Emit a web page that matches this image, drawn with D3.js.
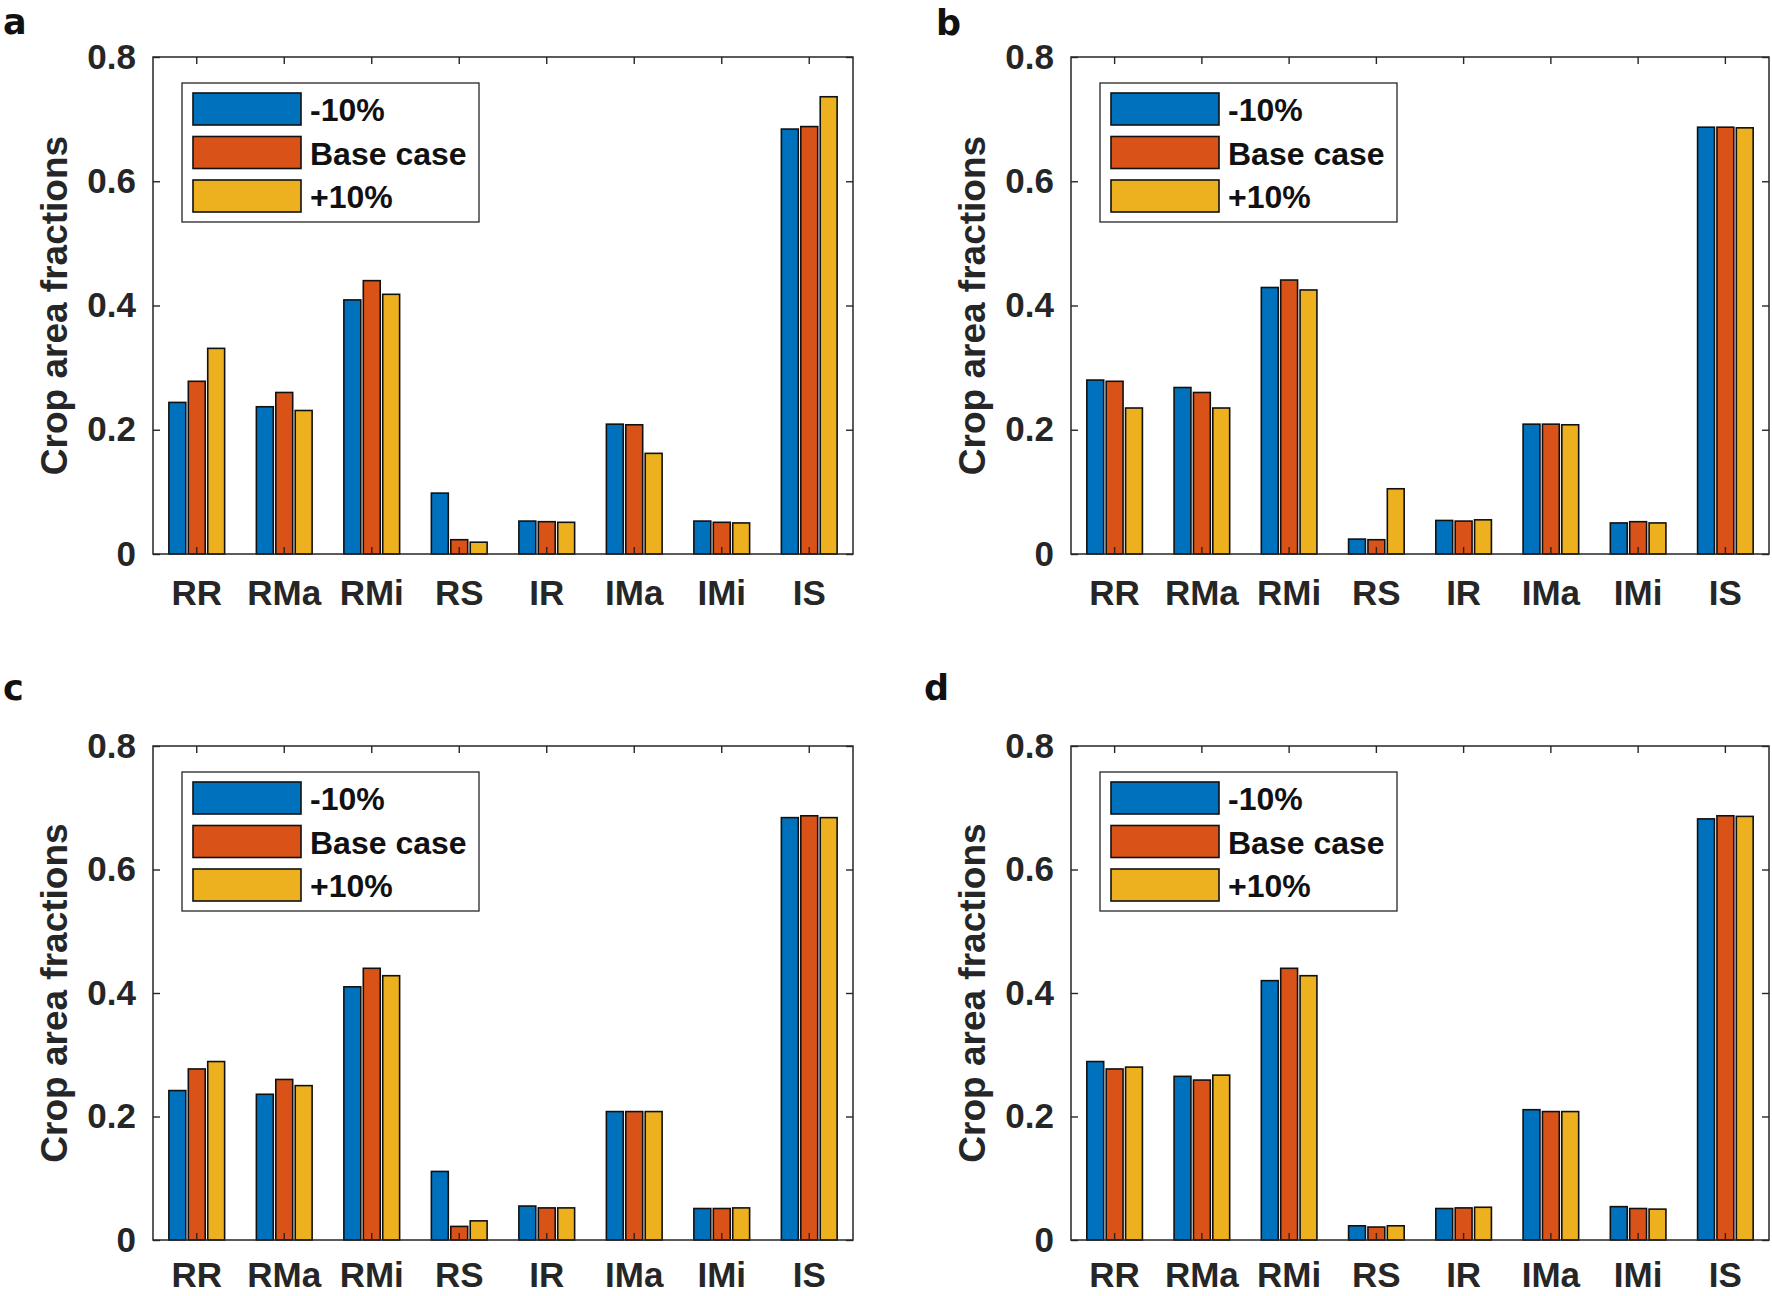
<!DOCTYPE html>
<html>
<head>
<meta charset="utf-8">
<script src="https://cdn.jsdelivr.net/npm/d3@7/dist/d3.min.js"></script>
<style>
  html, body { margin: 0; padding: 0; background: #fff; }
  svg { display: block; }
</style>
</head>
<body>
<svg id="chart" width="1772" height="1296"></svg>
<script>
// ---------------- DATA ----------------
const categories = ["RR", "RMa", "RMi", "RS", "IR", "IMa", "IMi", "IS"];
const seriesNames = ["-10%", "Base case", "+10%"];
const panelLabels = ["a", "b", "c", "d"];
const yTicks = [0, 0.2, 0.4, 0.6, 0.8];
const yTickLabels = ["0", "0.2", "0.4", "0.6", "0.8"];
const yAxisTitle = "Crop area fractions";

// panel a
const aMinus10 = [0.244, 0.237, 0.409, 0.098, 0.053, 0.209, 0.053, 0.684];
const aBase    = [0.278, 0.260, 0.440, 0.023, 0.052, 0.208, 0.051, 0.688];
const aPlus10  = [0.331, 0.231, 0.418, 0.019, 0.051, 0.162, 0.050, 0.736];
// panel b
const bMinus10 = [0.280, 0.268, 0.429, 0.024, 0.054, 0.209, 0.050, 0.687];
const bBase    = [0.278, 0.260, 0.441, 0.023, 0.053, 0.209, 0.052, 0.687];
const bPlus10  = [0.235, 0.235, 0.425, 0.105, 0.055, 0.208, 0.050, 0.686];
// panel c
const cMinus10 = [0.242, 0.236, 0.410, 0.111, 0.055, 0.208, 0.051, 0.684];
const cBase    = [0.277, 0.260, 0.440, 0.022, 0.052, 0.208, 0.051, 0.687];
const cPlus10  = [0.289, 0.250, 0.428, 0.031, 0.052, 0.208, 0.052, 0.684];
// panel d
const dMinus10 = [0.289, 0.265, 0.420, 0.023, 0.051, 0.211, 0.054, 0.682];
const dBase    = [0.277, 0.259, 0.440, 0.021, 0.052, 0.208, 0.051, 0.687];
const dPlus10  = [0.280, 0.267, 0.428, 0.023, 0.053, 0.208, 0.050, 0.686];

const panelSeries = [
  [aMinus10, aBase, aPlus10],
  [bMinus10, bBase, bPlus10],
  [cMinus10, cBase, cPlus10],
  [dMinus10, dBase, dPlus10]
];

// ---------------- STYLE / LAYOUT ----------------
const colors = ["#0072BD", "#D95319", "#EDB120"];
const axisColor = "#262626";
const fontFamily = "'Liberation Sans', Arial, Helvetica, sans-serif";
const panels = [
  { x: 153,  y: 57,  w: 700, h: 497, lx: 3,   ly: 34,  pad: 26 },
  { x: 1071, y: 57,  w: 698, h: 497, lx: 936, ly: 35,  pad: 26 },
  { x: 153,  y: 746, w: 700, h: 494, lx: 3,   ly: 700, pad: 22 },
  { x: 1071, y: 746, w: 698, h: 494, lx: 924, ly: 700, pad: 22 }
];

const svg = d3.select("#chart");

panels.forEach((p, pi) => {
  const data = panelSeries[pi];
  const g = svg.append("g").attr("transform", `translate(${p.x},${p.y})`);

  const x = d3.scaleBand().domain(categories).range([0, p.w]).paddingInner(0).paddingOuter(0);
  const y = d3.scaleLinear().domain([0, 0.8]).range([p.h, 0]);

  const bw = x.bandwidth();
  const groupW = bw * 0.222 * 3;
  const xs = d3.scaleBand().domain(d3.range(seriesNames.length))
    .range([(bw - groupW) / 2, (bw + groupW) / 2]).paddingInner(0.13).paddingOuter(0.065);

  // bars
  seriesNames.forEach((s, si) => {
    g.append("g").selectAll("rect")
      .data(categories.map((c, ci) => ({ c, v: data[si][ci] })))
      .join("rect")
      .attr("x", d => x(d.c) + xs(si))
      .attr("width", xs.bandwidth())
      .attr("y", d => y(d.v))
      .attr("height", d => y(0) - y(d.v))
      .attr("fill", colors[si])
      .attr("stroke", "#111")
      .attr("stroke-width", 1.6);
  });

  // axes (inward ticks)
  const fmt = d => yTickLabels[yTicks.indexOf(d)];
  const styleAxis = sel => {
    sel.select(".domain").remove();
    sel.selectAll(".tick line").attr("stroke", axisColor).attr("stroke-width", 1.4);
    sel.selectAll(".tick text").attr("fill", axisColor)
      .style("font-family", fontFamily).style("font-weight", "bold").style("font-size", "35px");
  };

  g.append("g").attr("transform", `translate(0,${p.h})`)
    .call(d3.axisBottom(x).tickSize(-7).tickPadding(p.pad)).call(styleAxis);
  g.append("g")
    .call(d3.axisTop(x).tickSize(-7).tickFormat(() => "")).call(styleAxis);
  g.append("g")
    .call(d3.axisLeft(y).tickValues(yTicks).tickFormat(fmt).tickSize(-7).tickPadding(17)).call(styleAxis);
  g.append("g").attr("transform", `translate(${p.w},0)`)
    .call(d3.axisRight(y).tickValues(yTicks).tickFormat(() => "").tickSize(-7)).call(styleAxis);

  // frame
  g.append("rect").attr("x", 0).attr("y", 0).attr("width", p.w).attr("height", p.h)
    .attr("fill", "none").attr("stroke", axisColor).attr("stroke-width", 1.5);

  // y title
  g.append("text")
    .attr("transform", `translate(${54 - p.x + (pi % 2 === 1 ? 918 : 0)},${p.h / 2}) rotate(-90)`)
    .attr("text-anchor", "middle")
    .attr("dominant-baseline", "central")
    .attr("fill", axisColor)
    .style("font-family", fontFamily).style("font-weight", "bold").style("font-size", "37px")
    .text(yAxisTitle);

  // legend
  const lg = g.append("g").attr("transform", "translate(29,26)");
  lg.append("rect").attr("width", 297).attr("height", 139)
    .attr("fill", "#fff").attr("stroke", axisColor).attr("stroke-width", 1.3);
  seriesNames.forEach((s, si) => {
    const yy = 10 + si * 43.5;
    lg.append("rect").attr("x", 11).attr("y", yy).attr("width", 108).attr("height", 32)
      .attr("fill", colors[si]).attr("stroke", "#111").attr("stroke-width", 1.6);
    lg.append("text").attr("x", 128).attr("y", yy + 28)
      .attr("fill", "#111")
      .style("font-family", fontFamily).style("font-weight", "bold").style("font-size", "32px")
      .text(s);
  });

  // panel letter
  svg.append("text").attr("x", p.lx).attr("y", p.ly)
    .attr("fill", "#111")
    .style("font-family", "'DejaVu Sans', sans-serif").style("font-weight", "bold").style("font-size", "35px")
    .text(panelLabels[pi]);
});
</script>
</body>
</html>
